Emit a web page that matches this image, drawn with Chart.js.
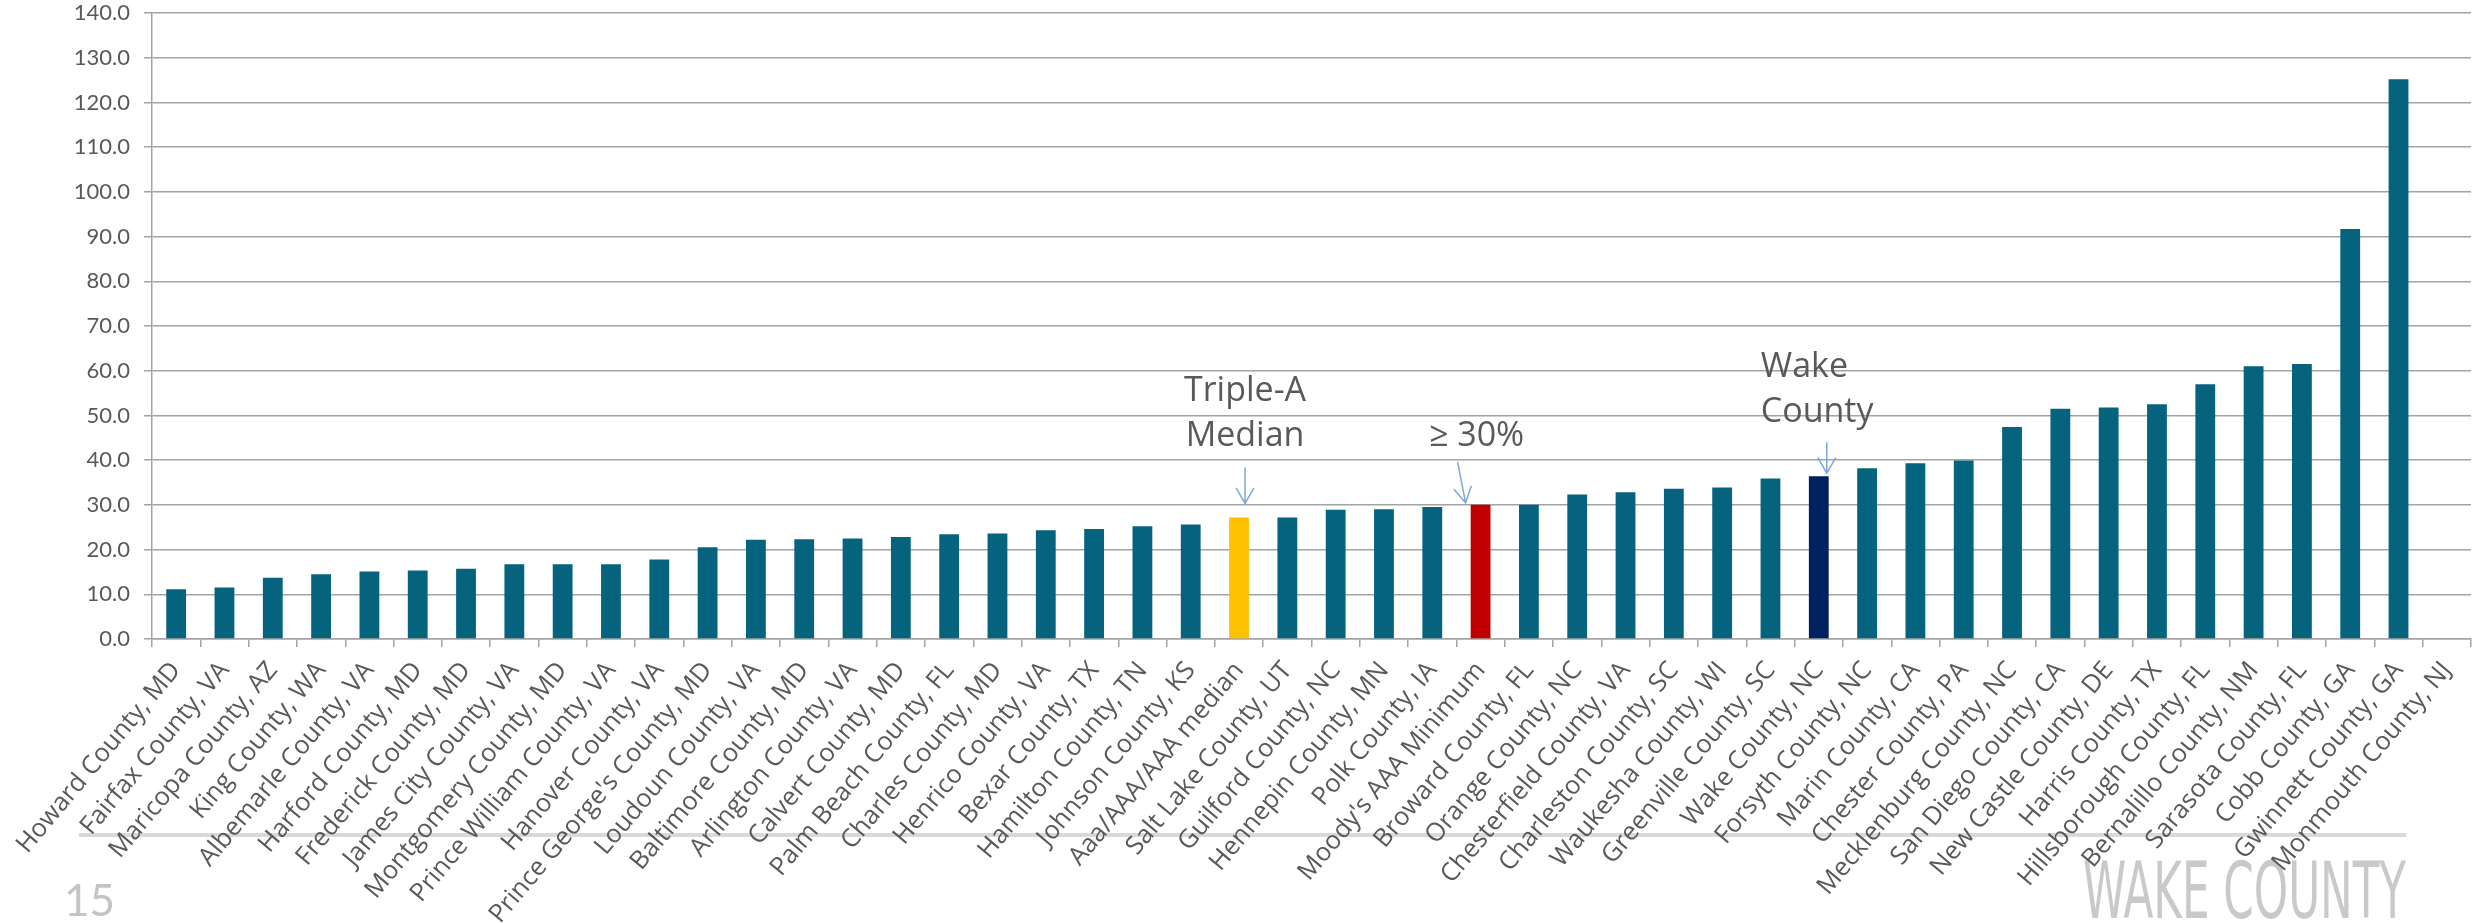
<!DOCTYPE html>
<html>
<head>
<meta charset="utf-8">
<script src="https://cdn.jsdelivr.net/npm/chart.js@4.4.1/dist/chart.umd.min.js"></script>
<style>
  html, body { margin: 0; padding: 0; background: #fff; }
  #wrap { width: 2474px; height: 923px; }
</style>
</head>
<body>
<div id="wrap"><canvas id="chart" width="2474" height="923"></canvas></div>
<script>
// Categories (left to right) and their values
const counties = [
  'Howard County, MD', 'Fairfax County, VA', 'Maricopa County, AZ', 'King County, WA',
  'Albemarle County, VA', 'Harford County, MD', 'Frederick County, MD', 'James City County, VA',
  'Montgomery County, MD', 'Prince William County, VA', 'Hanover County, VA', "Prince George's County, MD",
  'Loudoun County, VA', 'Baltimore County, MD', 'Arlington County, VA', 'Calvert County, MD',
  'Palm Beach County, FL', 'Charles County, MD', 'Henrico County, VA', 'Bexar County, TX',
  'Hamilton County, TN', 'Johnson County, KS', 'Aaa/AAA/AAA median', 'Salt Lake County, UT',
  'Guilford County, NC', 'Hennepin County, MN', 'Polk County, IA', "Moody's AAA Minimum",
  'Broward County, FL', 'Orange County, NC', 'Chesterfield County, VA', 'Charleston County, SC',
  'Waukesha County, WI', 'Greenville County, SC', 'Wake County, NC', 'Forsyth County, NC',
  'Marin County, CA', 'Chester County, PA', 'Mecklenburg County, NC', 'San Diego County, CA',
  'New Castle County, DE', 'Harris County, TX', 'Hillsborough County, FL', 'Bernalillo County, NM',
  'Sarasota County, FL', 'Cobb County, GA', 'Gwinnett County, GA', 'Monmouth County, NJ'
];

const values = [
  11.1, 11.5, 13.7, 14.5, 15.1, 15.3, 15.7, 16.7,
  16.7, 16.7, 17.8, 20.5, 22.2, 22.3, 22.5, 22.8,
  23.4, 23.6, 24.3, 24.6, 25.2, 25.6, 27.2, 27.2,
  28.9, 29.0, 29.5, 30.0, 30.0, 32.3, 32.8, 33.6,
  33.9, 35.9, 36.4, 38.2, 39.3, 39.9, 47.4, 51.5,
  51.8, 52.5, 57.0, 61.0, 61.5, 91.7, 125.2, null
];

// y axis: 0.0 .. 140.0 in steps of 10
const yMin = 0;
const yMax = 140;
const yStep = 10;

// text callouts pointing at bars
const callouts = [
  { category: 'Aaa/AAA/AAA median', lines: ['Triple-A', 'Median'] },
  { category: "Moody's AAA Minimum", lines: ['\u2265 30%'] },
  { category: 'Wake County, NC', lines: ['Wake', 'County'] }
];

const BAR = '#05637e';
const highlight = {
  'Aaa/AAA/AAA median': '#ffc000',
  "Moody's AAA Minimum": '#c00000',
  'Wake County, NC': '#002060'
};
const GRID = '#a3a3a3';
const TEXT = '#595959';

// hand placement of each callout, relative to the bar it points at
const calloutLayout = [
  { align: 'center', tx: 6, base: 71, ax0: 6, ay0: 50, ax1: 6, ay1: 14 },
  { align: 'center', tx: -4, base: 59, ax0: -23, ay0: 43, ax1: -15, ay1: 2 },
  { align: 'left', tx: -58, base: 54, ax0: 8, ay0: 34, ax1: 8, ay1: 3 }
];

const calloutPlugin = {
  id: 'callouts',
  afterDatasetsDraw(chart) {
    const ctx = chart.ctx;
    const meta = chart.getDatasetMeta(0);
    callouts.forEach((c, n) => {
      const i = counties.indexOf(c.category);
      const bar = meta.data[i];
      const lay = calloutLayout[n];
      const cx = bar.x;
      const top = bar.y;
      ctx.save();
      ctx.font = '34px "Open Sans"';
      ctx.fillStyle = TEXT;
      ctx.textAlign = lay.align;
      ctx.textBaseline = 'alphabetic';
      const lh = 45;
      c.lines.forEach((ln, k) => {
        const y = top - lay.base - (c.lines.length - 1 - k) * lh;
        ctx.fillText(ln, cx + lay.tx, y);
      });
      // arrow
      const x0 = cx + lay.ax0, y0 = top - lay.ay0;
      const x1 = cx + lay.ax1, y1 = top - lay.ay1;
      ctx.strokeStyle = '#7ea9d9';
      ctx.lineWidth = 1.5;
      ctx.beginPath();
      ctx.moveTo(x0, y0);
      ctx.lineTo(x1, y1);
      const ang = Math.atan2(y1 - y0, x1 - x0);
      const hl = 18, hw = 0.52;
      ctx.moveTo(x1 - hl * Math.cos(ang - hw), y1 - hl * Math.sin(ang - hw));
      ctx.lineTo(x1, y1);
      ctx.lineTo(x1 - hl * Math.cos(ang + hw), y1 - hl * Math.sin(ang + hw));
      ctx.stroke();
      ctx.restore();
    });
  }
};

// footer: rule, page number and logo text
const footerPlugin = {
  id: 'footer',
  beforeDraw(chart) {
    const ctx = chart.ctx;
    ctx.save();
    ctx.fillStyle = '#fff';
    ctx.fillRect(0, 0, chart.width, chart.height);
    ctx.strokeStyle = '#d9d9d9';
    ctx.lineWidth = 4;
    ctx.beginPath();
    ctx.moveTo(79, 835);
    ctx.lineTo(2406, 835);
    ctx.stroke();

    ctx.fillStyle = '#c4c4c4';
    ctx.font = '44px Lato';
    ctx.textBaseline = 'alphabetic';
    ctx.textAlign = 'left';
    ctx.fillText('15', 64, 916);

    ctx.fillStyle = '#c9c9c9';
    ctx.font = '78px "DejaVu Sans Condensed", "Liberation Sans Narrow", sans-serif';
    const w = ctx.measureText('WAKE COUNTY').width;
    ctx.translate(2083, 918);
    ctx.scale(323 / w, 1);
    ctx.fillText('WAKE COUNTY', 0, 0);
    ctx.restore();
  }
};

new Chart(document.getElementById('chart').getContext('2d'), {
  type: 'bar',
  data: {
    labels: counties,
    datasets: [{
      data: values,
      backgroundColor: counties.map(c => highlight[c] || BAR),
      barPercentage: 0.41,
      categoryPercentage: 1.0
    }]
  },
  options: {
    responsive: false,
    animation: false,
    devicePixelRatio: 1,
    layout: { padding: { top: 0, right: 3, left: 0, bottom: 0 } },
    plugins: {
      legend: { display: false },
      tooltip: { enabled: false }
    },
    scales: {
      x: {
        offset: true,
        afterFit: s => { s.height = 284; s.paddingLeft = 0; s.paddingRight = 0; },
        grid: {
          offset: true,
          drawOnChartArea: false,
          drawTicks: true,
          tickLength: 8,
          color: GRID,
          lineWidth: 1.5
        },
        border: { color: GRID, width: 1.5 },
        ticks: {
          autoSkip: false,
          minRotation: 50,
          maxRotation: 50,
          padding: 9,
          color: TEXT,
          font: { family: '"Open Sans"', size: 25.5 }
        }
      },
      y: {
        min: yMin,
        max: yMax,
        afterFit: s => { s.width = 152; s.paddingTop = 13; s.paddingBottom = 0; },
        grid: { color: GRID, lineWidth: 1.5, tickLength: 8 },
        border: { color: GRID, width: 1.5 },
        ticks: {
          stepSize: yStep,
          padding: 14,
          color: TEXT,
          font: { family: 'Lato', size: 22 },
          callback: v => Number(v).toFixed(1)
        }
      }
    }
  },
  plugins: [footerPlugin, calloutPlugin]
});
</script>
</body>
</html>
